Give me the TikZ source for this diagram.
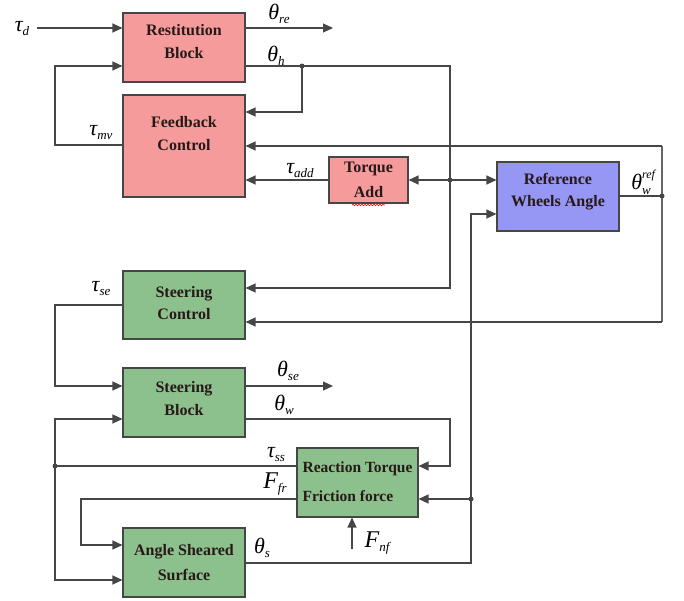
\documentclass[tikz,border=0pt]{standalone}
\usepackage{fontspec}
\setmainfont{Liberation Serif}
\usetikzlibrary{arrows.meta,decorations.pathmorphing}
\definecolor{pinkf}{RGB}{245,155,155}
\definecolor{greenf}{RGB}{140,192,140}
\definecolor{bluef}{RGB}{150,150,245}
\definecolor{edgec}{RGB}{70,70,70}
\definecolor{wirec}{RGB}{70,70,70}
\definecolor{txtc}{RGB}{40,25,25}
\newcommand{\glab}[3]{{\fontsize{#1}{#1}\selectfont\itshape #2}\raisebox{-4pt}{\fontsize{13}{13}\selectfont\itshape #3}}
\tikzset{
  boxc/.style={draw=edgec, line width=1.1pt, inner sep=0pt},
  lbl/.style={align=center, inner sep=0pt, text=txtc, font=\fontsize{16}{23}\selectfont\bfseries},
  sym/.style={inner sep=0pt, text=black},
  wire/.style={draw=wirec, line width=1.2pt},
  arr/.style={wire, -{Triangle[length=10pt,width=9pt]}},
  darr/.style={wire, {Triangle[length=10pt,width=9pt]}-{Triangle[length=10pt,width=9pt]}},
}
\begin{document}
\begin{tikzpicture}[x=1pt,y=-1pt]
\useasboundingbox (0,0) rectangle (684,600);
% blocks
\node[boxc, fill=pinkf, minimum width=122pt, minimum height=69pt] (rest) at (184,47.5) {};
\node[lbl] (restl) at ([yshift=6pt]rest.center) {Restitution\\Block};
\node[boxc, fill=pinkf, minimum width=122pt, minimum height=102pt] (fb) at (184,146) {};
\node[lbl] (fbl) at ([yshift=12pt]fb.center) {Feedback\\Control};
\node[boxc, fill=pinkf, minimum width=79pt, minimum height=46pt] (ta) at (368.5,180) {};
\node[lbl, font=\fontsize{16}{25}\selectfont\bfseries] (tal) at (ta.center) {Torque\\Add};
\draw[red, line width=0.6pt, decorate, decoration={snake, amplitude=0.7pt, segment length=3pt}] (352,205) -- (385,205);
\node[boxc, fill=bluef, minimum width=122pt, minimum height=69pt] (rw) at (558,196.5) {};
\node[lbl, font=\fontsize{16}{22}\selectfont\bfseries] (rwl) at ([yshift=5pt]rw.center) {Reference\\Wheels Angle};
\node[boxc, fill=greenf, minimum width=122pt, minimum height=68pt] (sc) at (184,305) {};
\node[lbl, font=\fontsize{16}{22}\selectfont\bfseries] (scl) at ([yshift=2pt]sc.center) {Steering\\Control};
\node[boxc, fill=greenf, minimum width=122pt, minimum height=69pt] (sb) at (184,402.5) {};
\node[lbl] (sbl) at ([yshift=4pt]sb.center) {Steering\\Block};
\node[boxc, fill=greenf, minimum width=121pt, minimum height=69pt] (rt) at (357.5,482.5) {};
\node[lbl, align=left, font=\fontsize{15.5}{29}\selectfont\bfseries] (rtl) at ([yshift=1pt]rt.center) {Reaction Torque\\Friction force};
\node[boxc, fill=greenf, minimum width=122pt, minimum height=69pt] (ang) at (184,562.5) {};
\node[lbl, font=\fontsize{16}{25}\selectfont\bfseries] (angl) at (ang.center) {Angle Sheared\\Surface};
% coordinates
\coordinate (tdin) at (37,28);
\coordinate (reout) at (333,28);
\coordinate (jh) at (302,66);
\coordinate (hr) at (450,66);
\coordinate (hd) at (450,288);
\coordinate (jta) at (450,180);
\coordinate (jref) at (662,196);
\coordinate (rtop) at (662,146);
\coordinate (rbot) at (662,322);
\coordinate (mvl) at (55,145);
\coordinate (mvt) at (55,66);
\coordinate (sbot) at (471,563);
\coordinate (stop) at (471,214);
\coordinate (js) at (471,499);
\coordinate (sel) at (55,305);
\coordinate (seb) at (55,386);
\coordinate (seout) at (333,386);
\coordinate (wr) at (450,419);
\coordinate (wd) at (450,466);
\coordinate (jss) at (55,466);
\coordinate (sst) at (55,419);
\coordinate (ssb) at (55,580);
\coordinate (frl) at (81,499);
\coordinate (frb) at (81,545);
\coordinate (nf) at (352,549);
% wires
\draw[arr] (tdin) -- (rest.west |- tdin);
\draw[arr] (rest.east |- reout) -- (reout);
\draw[arr] (rest.east |- jh) -- (hr) -- (hd) -- (sc.east |- hd);
\draw[arr] (jh) -- (302,112) -- (fb.east |- 0,112);
\draw[darr] (ta.east) -- (rw.west |- ta.east);
\draw[arr] (ta.west) -- (fb.east |- ta.west);
\draw[wire] (rw.east |- jref) -- (jref);
\draw[wire, line width=2pt, draw=gray!80!black] (rtop) -- (rbot);
\draw[arr] (rtop) -- (fb.east |- rtop);
\draw[arr] (rbot) -- (sc.east |- rbot);
\draw[arr] (fb.west |- mvl) -- (mvl) -- (mvt) -- (rest.west |- mvt);
\draw[arr] (ang.east |- sbot) -- (sbot) -- (stop) -- (rw.west |- stop);
\draw[arr] (js) -- (rt.east |- js);
\draw[arr] (sc.west |- sel) -- (sel) -- (seb) -- (sb.west |- seb);
\draw[arr] (sb.east |- seout) -- (seout);
\draw[arr] (sb.east |- wr) -- (wr) -- (wd) -- (rt.east |- wd);
\draw[wire] (rt.west |- jss) -- (jss);
\draw[arr] (jss) -- (sst) -- (sb.west |- sst);
\draw[arr] (jss) -- (ssb) -- (ang.west |- ssb);
\draw[arr] (rt.west |- frl) -- (frl) -- (frb) -- (ang.west |- frb);
\draw[arr] (nf) -- (rt.south -| nf);
% junction dots
\foreach \p in {jh,jta,jref,js,jss} \fill[wirec] (\p) circle (2.5pt);
% symbol labels
\node[sym] (ltd) at (22,29) {\glab{22}{τ}{d}};
\node[sym] (lre) at (279,14) {\glab{22}{θ}{re}};
\node[sym] (lh) at (276,56) {\glab{22}{θ}{h}};
\node[sym] (lmv) at (101,133) {\glab{22}{τ}{mv}};
\node[sym] (ladd) at (300,171) {\glab{22}{τ}{add}};
\node[sym] (lref) at (641,182) {{\fontsize{22}{22}\selectfont\itshape θ}\makebox[0pt][l]{\raisebox{11pt}{\fontsize{12}{12}\selectfont\itshape ref}}\raisebox{-5pt}{\fontsize{13}{13}\selectfont\itshape w}};
\node[sym] (lse) at (101,289) {\glab{22}{τ}{se}};
\node[sym] (lthse) at (288,371) {\glab{22}{θ}{se}};
\node[sym] (lw) at (284,405) {\glab{22}{θ}{w}};
\node[sym] (lss) at (276,455) {\glab{22}{τ}{ss}};
\node[sym] (lfr) at (275,484) {\glab{24}{F}{fr}};
\node[sym] (ls) at (262,548) {\glab{22}{θ}{s}};
\node[sym] (lnf) at (377,543) {\glab{24}{F}{nf}};
\end{tikzpicture}
\end{document}
